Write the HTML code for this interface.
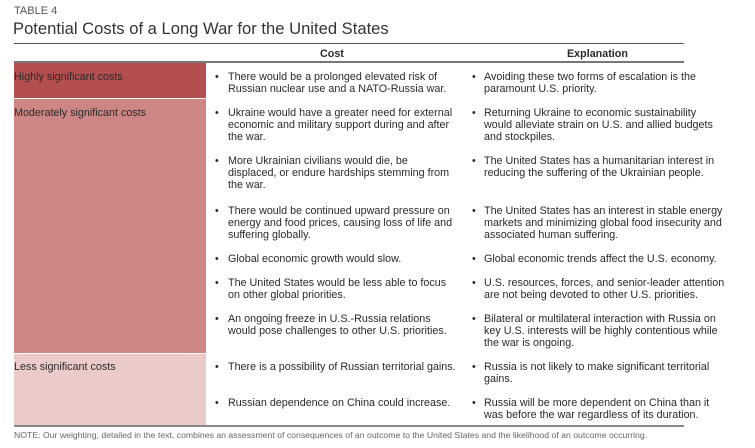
<!DOCTYPE html><html><head><style>
body{margin:0;width:755px;height:448px;background:#fff;position:relative;font-family:"Liberation Sans",Arial,sans-serif;color:#2a2a2a;overflow:hidden}
div{position:absolute;white-space:nowrap}
.t{font-size:10.75px;line-height:12px}
</style></head><body>
<div style="left:14px;top:5px;font-size:11px;color:#555">TABLE 4</div>
<div style="left:13px;top:19px;font-size:16.6px;color:#333">Potential Costs of a Long War for the United States</div>
<div style="left:14px;top:43px;width:670px;height:1px;background:#555"></div>
<div style="left:14px;top:61px;width:670px;height:1.5px;background:#777"></div>
<div class="t" style="left:320px;top:48px;font-weight:bold">Cost</div>
<div class="t" style="left:567px;top:48px;font-weight:bold">Explanation</div>
<div style="left:14px;top:63px;width:192px;height:35px;background:#b44f50"></div>
<div style="left:14px;top:99px;width:192px;height:254px;background:#cd8683"></div>
<div style="left:14px;top:354px;width:192px;height:71px;background:#ebcbc8"></div>
<div style="left:14px;top:425px;width:670px;height:1.5px;background:#888"></div>
<div class="t" style="left:14px;top:71px">Highly significant costs</div>
<div class="t" style="left:14px;top:107px">Moderately significant costs</div>
<div class="t" style="left:14px;top:361px">Less significant costs</div>
<div class="t" style="left:215px;top:71px">•</div><div class="t" style="left:228px;top:71px">There would be a prolonged elevated risk of<br>Russian nuclear use and a NATO-Russia war.</div>
<div class="t" style="left:215px;top:107px">•</div><div class="t" style="left:228px;top:107px">Ukraine would have a greater need for external<br>economic and military support during and after<br>the war.</div>
<div class="t" style="left:215px;top:155px">•</div><div class="t" style="left:228px;top:155px">More Ukrainian civilians would die, be<br>displaced, or endure hardships stemming from<br>the war.</div>
<div class="t" style="left:215px;top:205px">•</div><div class="t" style="left:228px;top:205px">There would be continued upward pressure on<br>energy and food prices, causing loss of life and<br>suffering globally.</div>
<div class="t" style="left:215px;top:253px">•</div><div class="t" style="left:228px;top:253px">Global economic growth would slow.</div>
<div class="t" style="left:215px;top:277px">•</div><div class="t" style="left:228px;top:277px">The United States would be less able to focus<br>on other global priorities.</div>
<div class="t" style="left:215px;top:313px">•</div><div class="t" style="left:228px;top:313px">An ongoing freeze in U.S.-Russia relations<br>would pose challenges to other U.S. priorities.</div>
<div class="t" style="left:215px;top:361px">•</div><div class="t" style="left:228px;top:361px">There is a possibility of Russian territorial gains.</div>
<div class="t" style="left:215px;top:397px">•</div><div class="t" style="left:228px;top:397px">Russian dependence on China could increase.</div>
<div class="t" style="left:472px;top:71px">•</div><div class="t" style="left:484px;top:71px">Avoiding these two forms of escalation is the<br>paramount U.S. priority.</div>
<div class="t" style="left:472px;top:107px">•</div><div class="t" style="left:484px;top:107px">Returning Ukraine to economic sustainability<br>would alleviate strain on U.S. and allied budgets<br>and stockpiles.</div>
<div class="t" style="left:472px;top:155px">•</div><div class="t" style="left:484px;top:155px">The United States has a humanitarian interest in<br>reducing the suffering of the Ukrainian people.</div>
<div class="t" style="left:472px;top:205px">•</div><div class="t" style="left:484px;top:205px">The United States has an interest in stable energy<br>markets and minimizing global food insecurity and<br>associated human suffering.</div>
<div class="t" style="left:472px;top:253px">•</div><div class="t" style="left:484px;top:253px">Global economic trends affect the U.S. economy.</div>
<div class="t" style="left:472px;top:277px">•</div><div class="t" style="left:484px;top:277px">U.S. resources, forces, and senior-leader attention<br>are not being devoted to other U.S. priorities.</div>
<div class="t" style="left:472px;top:313px">•</div><div class="t" style="left:484px;top:313px">Bilateral or multilateral interaction with Russia on<br>key U.S. interests will be highly contentious while<br>the war is ongoing.</div>
<div class="t" style="left:472px;top:361px">•</div><div class="t" style="left:484px;top:361px">Russia is not likely to make significant territorial<br>gains.</div>
<div class="t" style="left:472px;top:397px">•</div><div class="t" style="left:484px;top:397px">Russia will be more dependent on China than it<br>was before the war regardless of its duration.</div>
<div style="left:14px;top:430px;font-size:8.7px;color:#666">NOTE: Our weighting, detailed in the text, combines an assessment of consequences of an outcome to the United States and the likelihood of an outcome occurring.</div>
</body></html>
